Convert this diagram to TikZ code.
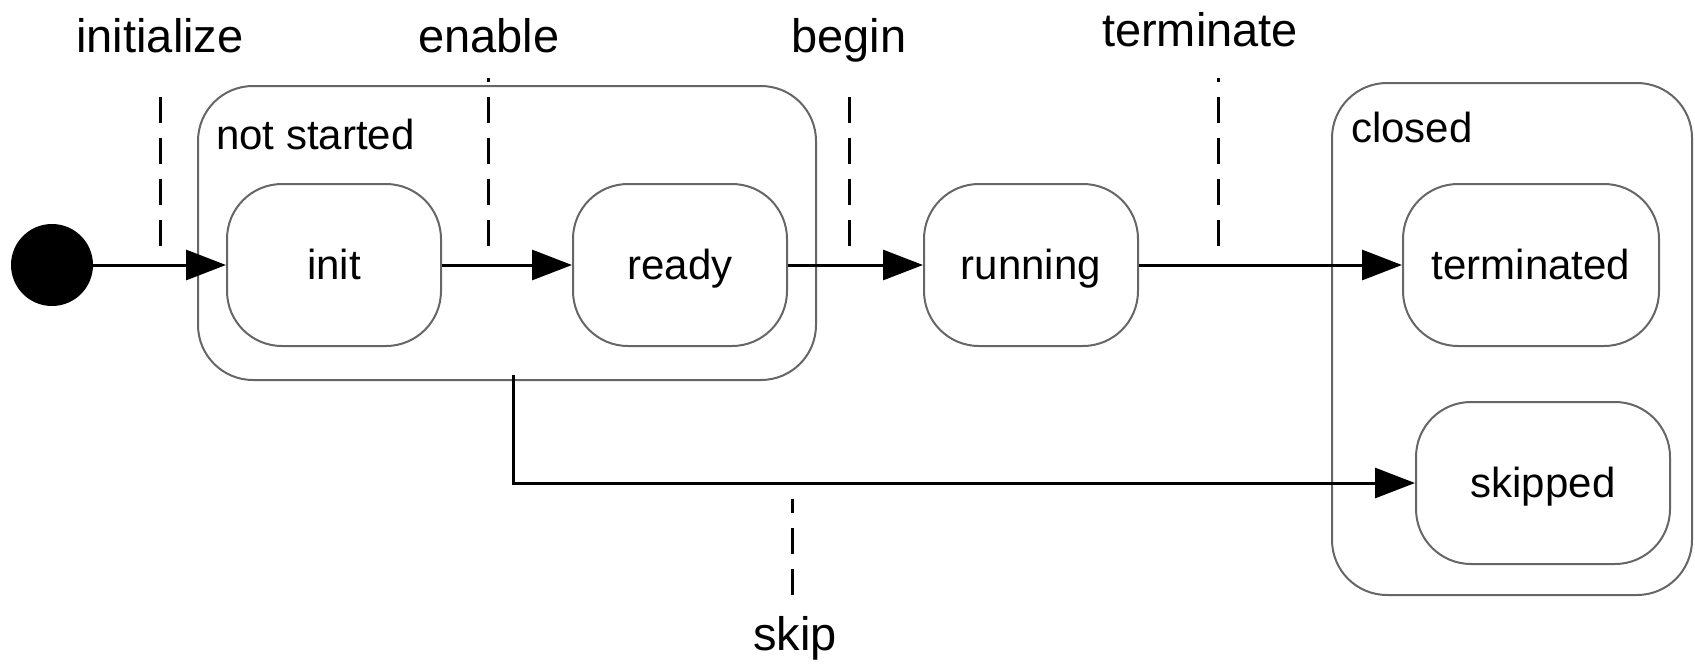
\documentclass[tikz,border=0pt]{standalone}
\usepackage{fontspec}
\setmainfont{Liberation Sans}
\usetikzlibrary{arrows.meta}
\begin{document}
\begin{tikzpicture}[x=1pt,y=-1pt,
  statebox/.style={draw=black!60, line width=2pt, rounded corners=55pt, minimum width=214pt, minimum height=162pt, inner sep=0pt, text height=30pt, text depth=2pt, font=\fontsize{42}{50}\selectfont},
  groupbox/.style={draw=black!60, line width=2pt, rounded corners=55pt, inner sep=0pt},
  grouplabel/.style={anchor=base west, inner sep=0pt, font=\fontsize{42}{50}\selectfont},
  evlabel/.style={anchor=base, inner sep=0pt, font=\fontsize{47}{56}\selectfont},
  trans/.style={draw=black, line width=3pt, -{Triangle[length=40pt,width=30pt]}},
  dashline/.style={draw=black, line width=3pt, dash pattern=on 26pt off 15pt}
]
\useasboundingbox (0,0) rectangle (1695,665);
% containers
\node[groupbox, minimum width=618pt, minimum height=294pt] (notstarted) at (507,233) {};
\node[groupbox, minimum width=360pt, minimum height=512pt] (closed) at (1512,339) {};
\node[grouplabel] (nslabel) at (216,149) {not started};
\node[grouplabel] (cllabel) at (1351,142) {closed};
% initial state
\node[circle, fill=black, minimum size=82pt, inner sep=0pt] (start) at (52,265) {};
% states
\node[statebox] (init) at (334,265) {init};
\node[statebox] (ready) at (680,265) {ready};
\node[statebox] (running) at (1031,265) {running};
\node[statebox, minimum width=256pt] (terminated) at (1531,265) {terminated};
\node[statebox, minimum width=254pt] (skipped) at (1543,483) {skipped};
% transitions
\draw[trans] (start) -- (init);
\draw[trans] (init) -- (ready);
\draw[trans] (ready) -- (running);
\draw[trans] (running) -- (terminated);
\coordinate (skipfrom) at (513,375);
\draw[trans] (skipfrom) |- (skipped.west);
% event markers
\coordinate (d1t) at (160,97);  \coordinate (d1b) at (160,247);
\coordinate (d2t) at (488,78);  \coordinate (d2b) at (488,247);
\coordinate (d3t) at (849,97);  \coordinate (d3b) at (849,247);
\coordinate (d4t) at (1218,78); \coordinate (d4b) at (1218,247);
\coordinate (d5t) at (792,499); \coordinate (d5b) at (792,595);
\draw[dashline] (d1t) -- (d1b);
\draw[dashline, dash phase=22pt] (d2t) -- (d2b);
\draw[dashline] (d3t) -- (d3b);
\draw[dashline, dash phase=22pt] (d4t) -- (d4b);
\draw[dashline, dash phase=12pt] (d5t) -- (d5b);
\node[evlabel] (l1) at (160,52) {initialize};
\node[evlabel] (l2) at (489,52) {enable};
\node[evlabel] (l3) at (849,52) {begin};
\node[evlabel] (l4) at (1200,46) {terminate};
\node[evlabel] (l5) at (795,650) {skip};
\end{tikzpicture}
\end{document}
